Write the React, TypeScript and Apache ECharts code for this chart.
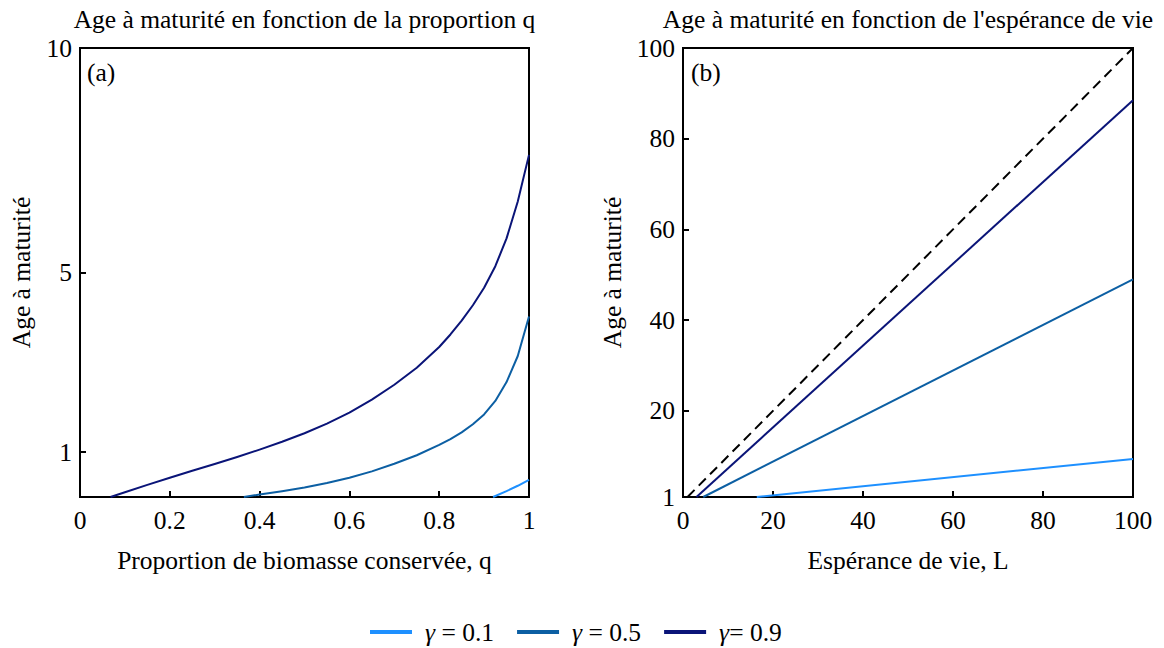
import React, { useEffect, useRef } from "react";
import * as echarts from "echarts";

// ---- Data ----
// Panel (a): age at maturity vs proportion of biomass kept, q
const qNavy = [0.068, 0.1, 0.15, 0.2, 0.25, 0.3, 0.35, 0.4, 0.45, 0.5, 0.55, 0.6, 0.65, 0.7, 0.75, 0.8, 0.825, 0.85, 0.875, 0.9, 0.925, 0.95, 0.975, 1];
const ageNavy = [0, 0.105, 0.27, 0.43, 0.585, 0.735, 0.89, 1.055, 1.23, 1.42, 1.635, 1.88, 2.17, 2.5, 2.88, 3.34, 3.62, 3.93, 4.27, 4.66, 5.14, 5.76, 6.58, 7.62];
const qMid = [0.365, 0.4, 0.45, 0.5, 0.55, 0.6, 0.65, 0.7, 0.75, 0.8, 0.825, 0.85, 0.875, 0.9, 0.925, 0.95, 0.975, 1];
const ageMid = [0, 0.055, 0.13, 0.21, 0.31, 0.43, 0.57, 0.74, 0.93, 1.16, 1.29, 1.44, 1.62, 1.84, 2.14, 2.56, 3.14, 4.02];
const qLight = [0.92, 0.95, 0.975, 1];
const ageLight = [0, 0.13, 0.25, 0.38];

// Panel (b): age at maturity vs life expectancy L
const lDiag = [1, 100];
const aDiag = [1, 100];
const lNavy = [3, 100];
const aNavyL = [1, 88.5];
const lMid = [4.5, 100];
const aMidL = [1, 49];
const lLight = [16.4, 100];
const aLightL = [1, 9.4];

const xTicksA = [0, 0.2, 0.4, 0.6, 0.8, 1];
const yTicksA = [1, 5, 10];
const yTicksB = [1, 20, 40, 60, 80, 100];

const names = ["γ = 0.1", "γ = 0.5", "γ= 0.9"];
const colors = ["#1e90ff", "#0c5fa3", "#0a1478"];

const FONT = "Liberation Serif, Times New Roman, serif";
const FS = 25.5;

const zip = (xs: number[], ys: number[]) => xs.map((x, i) => [x, ys[i]]);

export default function App() {
  const ref = useRef<HTMLDivElement>(null);
  useEffect(() => {
    if (!ref.current) return;
    const chart = echarts.init(ref.current, undefined, { renderer: "svg" });
    const axisCommon = {
      axisLine: { show: true, lineStyle: { color: "#000", width: 2 } },
      axisTick: { show: true, inside: true, length: 6, lineStyle: { color: "#000", width: 2 } },
      axisLabel: { color: "#000", fontFamily: FONT, fontSize: FS },
      splitLine: { show: false },
      nameTextStyle: { color: "#000", fontFamily: FONT, fontSize: FS },
    };
    const lineSeries = (name: string, color: string, data: number[][], idx: number, dashed = false) => ({
      type: "line",
      name,
      xAxisIndex: idx,
      yAxisIndex: idx,
      data,
      showSymbol: false,
      symbol: "none",
      smooth: false,
      lineStyle: { color, width: 2, type: dashed ? [10, 6] : "solid", join: "round" },
      itemStyle: { color },
      z: 3,
    });
    const textEl = (text: string, x: number, y: number, align: string) => ({
      type: "text",
      x,
      y,
      style: {
        text,
        fill: "#000",
        fontFamily: FONT,
        fontSize: FS,
        align,
        textAlign: align,
        verticalAlign: "top",
        textVerticalAlign: "top",
      },
    });
    chart.setOption({
      animation: false,
      backgroundColor: "#fff",
      grid: [
        { left: 80, top: 48, width: 449, height: 449, show: true, borderColor: "#000", borderWidth: 2, containLabel: false },
        { left: 683, top: 48, width: 450, height: 449, show: true, borderColor: "#000", borderWidth: 2, containLabel: false },
      ],
      xAxis: [
        {
          ...axisCommon,
          type: "value",
          gridIndex: 0,
          min: 0,
          max: 1,
          interval: 0.2,
          name: "Proportion de biomasse conservée, q",
          nameLocation: "middle",
          nameGap: 50,
          axisLabel: { ...axisCommon.axisLabel, margin: 10, customValues: xTicksA },
          axisTick: { ...axisCommon.axisTick, customValues: xTicksA },
        },
        {
          ...axisCommon,
          type: "value",
          gridIndex: 1,
          min: 0,
          max: 100,
          interval: 20,
          name: "Espérance de vie, L",
          nameLocation: "middle",
          nameGap: 50,
          axisLabel: { ...axisCommon.axisLabel, margin: 10 },
        },
      ],
      yAxis: [
        {
          ...axisCommon,
          type: "value",
          gridIndex: 0,
          min: 0,
          max: 10,
          name: "Age à maturité",
          nameLocation: "middle",
          nameGap: 46,
          axisLabel: { ...axisCommon.axisLabel, margin: 8, customValues: yTicksA },
          axisTick: { ...axisCommon.axisTick, customValues: yTicksA },
        },
        {
          ...axisCommon,
          type: "value",
          gridIndex: 1,
          min: 1,
          max: 100,
          name: "Age à maturité",
          nameLocation: "middle",
          nameGap: 58,
          axisLabel: { ...axisCommon.axisLabel, margin: 8, customValues: yTicksB },
          axisTick: { ...axisCommon.axisTick, customValues: yTicksB },
        },
      ],
      legend: {
        data: names,
        top: 614,
        left: 365,
        icon: "rect",
        itemWidth: 42,
        itemHeight: 4,
        itemGap: 23,
        textStyle: {
          color: "#000",
          fontFamily: FONT,
          fontSize: FS,
          padding: [0, 0, 0, 8],
          rich: { i: { fontStyle: "italic", fontFamily: FONT, fontSize: FS, color: "#000" } },
        },
        formatter: (n: string) => "{i|γ}" + n.slice(1),
      },
      graphic: [
        textEl("Age à maturité en fonction de la proportion q", 304.5, 6, "center"),
        textEl("Age à maturité en fonction de l'espérance de vie", 908, 6, "center"),
        textEl("(a)", 87, 59, "left"),
        textEl("(b)", 691, 59, "left"),
      ],
      series: [
        lineSeries(names[0], colors[0], zip(qLight, ageLight), 0),
        lineSeries(names[1], colors[1], zip(qMid, ageMid), 0),
        lineSeries(names[2], colors[2], zip(qNavy, ageNavy), 0),
        lineSeries("diag", "#000", zip(lDiag, aDiag), 1, true),
        lineSeries(names[2], colors[2], zip(lNavy, aNavyL), 1),
        lineSeries(names[1], colors[1], zip(lMid, aMidL), 1),
        lineSeries(names[0], colors[0], zip(lLight, aLightL), 1),
      ],
    });
    return () => chart.dispose();
  }, []);
  return <div ref={ref} style={{ position: "fixed", left: 0, top: 0, width: 1164, height: 648 }} />;
}
